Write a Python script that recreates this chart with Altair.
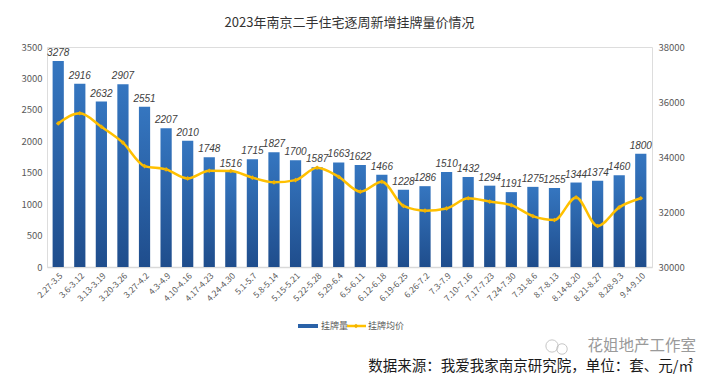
import altair as alt
import pandas as pd

weeks = ["2.27-3.5", "3.6-3.12", "3.13-3.19", "3.20-3.26", "3.27-4.2", "4.3-4.9",
         "4.10-4.16", "4.17-4.23", "4.24-4.30", "5.1-5.7", "5.8-5.14", "5.15-5.21",
         "5.22-5.28", "5.29-6.4", "6.5-6.11", "6.12-6.18", "6.19-6.25", "6.26-7.2",
         "7.3-7.9", "7.10-7.16", "7.17-7.23", "7.24-7.30", "7.31-8.6", "8.7-8.13",
         "8.14-8.20", "8.21-8.27", "8.28-9.3", "9.4-9.10"]
listings = [3278, 2916, 2632, 2907, 2551, 2207, 2010, 1748, 1516, 1715, 1827, 1700,
            1587, 1663, 1622, 1466, 1228, 1286, 1510, 1432, 1294, 1191, 1275, 1255,
            1344, 1374, 1460, 1800]
avg_price = [35220, 35590, 35100, 34520, 33670, 33550, 33220, 33500, 33490, 33250,
             33080, 33160, 33610, 33280, 32740, 33100, 32220, 32050, 32130, 32500,
             32380, 32250, 31850, 31710, 32530, 31490, 32170, 32500]
left_ticks = [0, 500, 1000, 1500, 2000, 2500, 3000, 3500]
right_ticks = [30000, 32000, 34000, 36000, 38000]

title = "2023年南京二手住宅逐周新增挂牌量价情况"
source = "数据来源：我爱我家南京研究院，单位：套、元/㎡"
watermark = "花姐地产工作室"
legend_names = ["挂牌量", "挂牌均价"]

df = pd.DataFrame({"week": weeks, "count": listings, "price": avg_price})

FONT = "Noto Sans CJK SC"
BLUE_GRAD = alt.Gradient(
    gradient="linear",
    stops=[alt.GradientStop(color="#3576C0", offset=0),
           alt.GradientStop(color="#1F4D8C", offset=1)],
    x1=0, x2=0, y1=0, y2=1,
)
YELLOW = "#FFC000"

base = alt.Chart(df).encode(
    x=alt.X("week:N", sort=weeks, title=None,
            scale=alt.Scale(paddingInner=0.48, paddingOuter=0.26),
            axis=alt.Axis(labelAngle=315, labelFontSize=8.5, labelColor="#595959",
                          domainColor="#D9D9D9", domainWidth=1.5, ticks=False,
                          labelPadding=4, labelFont=FONT))
)

ycount = alt.Y("count:Q", title=None,
               scale=alt.Scale(domain=[0, 3500], nice=False),
               axis=alt.Axis(values=left_ticks, orient="left", grid=False, domain=False,
                             ticks=False, labelFontSize=9.5, labelColor="#595959",
                             labelPadding=5, labelFont=FONT, format="d"))

bars = base.mark_bar(fill=BLUE_GRAD).encode(y=ycount)
bar_labels = base.mark_text(dy=-8, fontSize=10, fontStyle="italic", color="#404040",
                            font="Liberation Sans").encode(
    y=ycount, text=alt.Text("count:Q", format="d"))

yprice = alt.Y("price:Q", title=None,
               scale=alt.Scale(domain=[30000, 38000], nice=False),
               axis=alt.Axis(values=right_ticks, orient="right", grid=False, domain=False,
                             ticks=False, labelFontSize=9.5, labelColor="#595959",
                             labelPadding=6, labelFont=FONT, format="d"))

line = base.mark_line(color=YELLOW, strokeWidth=2.5, interpolate="monotone").encode(y=yprice)
points = base.mark_point(shape="diamond", filled=True, size=22, color="#F2B400",
                         opacity=1).encode(y=yprice)

one = pd.DataFrame({"a": [0]})
leg_rect = alt.Chart(one).mark_rect(color="#2A62A8").encode(
    x=alt.value(251), x2=alt.value(271), y=alt.value(277), y2=alt.value(281))
leg_t1 = alt.Chart(one).mark_text(text=legend_names[0], align="left", baseline="middle",
                                  fontSize=9, color="#595959", font=FONT).encode(
    x=alt.value(274), y=alt.value(279))
leg_line = alt.Chart(one).mark_rule(color=YELLOW, strokeWidth=2.5).encode(
    x=alt.value(300), x2=alt.value(319), y=alt.value(279))
leg_pt = alt.Chart(one).mark_point(shape="diamond", filled=True, size=22, color="#F2B400",
                                   opacity=1).encode(x=alt.value(309), y=alt.value(279))
leg_t2 = alt.Chart(one).mark_text(text=legend_names[1], align="left", baseline="middle",
                                  fontSize=9, color="#595959", font=FONT).encode(
    x=alt.value(321), y=alt.value(279))
icon1 = alt.Chart(one).mark_point(shape="circle", size=150, color="#B0B0B0",
                                  strokeWidth=1).encode(x=alt.value(505), y=alt.value(299))
icon2 = alt.Chart(one).mark_point(shape="circle", size=110, color="#B0B0B0",
                                  strokeWidth=1).encode(x=alt.value(515), y=alt.value(302))
wm = alt.Chart(one).mark_text(text=watermark, align="right", baseline="middle",
                              fontSize=15.5, color="#9A9A9A", font=FONT).encode(
    x=alt.value(649), y=alt.value(299))
src = alt.Chart(one).mark_text(text=source, align="right", baseline="middle",
                               fontSize=14.5, color="#1A1A1A", font=FONT).encode(
    x=alt.value(646), y=alt.value(320))

main = alt.layer(alt.layer(bars, bar_labels), alt.layer(line, points)).resolve_scale(y="independent")

chart = alt.layer(main, leg_rect, leg_t1, leg_line, leg_pt, leg_t2, icon1, icon2, wm, src).properties(
    width=605, height=220,
    autosize=alt.AutoSizeParams(type="none"),
    padding={"left": 39, "top": 39, "right": 59, "bottom": 107},
    title=alt.TitleParams(title, fontSize=13, font=FONT, color="#333333",
                          fontWeight="normal", anchor="middle", offset=12),
).configure_view(stroke=None).configure(background="white")

chart.save("out.html", embed_options={"renderer": "svg", "actions": False})
